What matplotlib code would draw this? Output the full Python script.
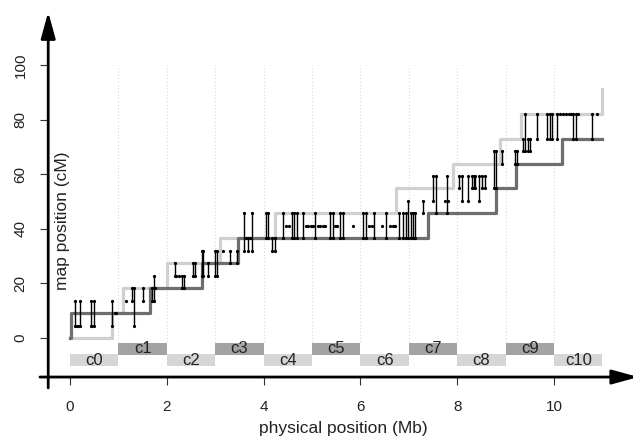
import numpy as np
import matplotlib.pyplot as plt

plt.rcParams['font.family'] = ['Liberation Sans', 'DejaVu Sans']

# step curves (physical Mb -> map cM)
light_x = [0, 0.87, 1.1, 2.0, 3.1, 4.24, 6.73, 7.91, 8.88, 9.32, 11.0]
light_y = [0, 9.1, 18.3, 27.4, 36.6, 45.7, 54.8, 63.9, 73.0, 82.2, 91.3]
dark_x = [0, 0.02, 1.65, 2.73, 3.47, 7.39, 8.8, 9.21, 10.17, 11.0]
dark_y = [0, 9.1, 18.3, 27.4, 36.6, 45.7, 54.8, 63.9, 73.0, 73.0]

# marker intervals
bar_x = [0.10, 0.21, 0.43, 0.50, 0.86,
         1.29, 1.33, 1.50, 1.70, 1.74,
         2.17, 2.31, 2.36, 2.55, 2.58, 2.72, 2.75, 2.86, 3.00, 3.04, 3.31, 3.46,
         3.60, 3.68, 3.77,
         4.05, 4.09, 4.17, 4.24, 4.41, 4.58, 4.63, 4.68, 4.81, 5.06,
         5.37, 5.43, 5.58, 5.65, 6.05, 6.12, 6.28, 6.53,
         6.80, 6.87, 6.95, 6.99, 7.04, 7.08, 7.13,
         7.29, 7.51, 7.56, 7.78, 8.04, 8.09, 8.23, 8.30, 8.34, 8.37,
         8.46, 8.51, 8.57, 8.75, 8.80, 8.92, 9.19, 9.23,
         9.35, 9.40, 9.46, 9.50, 9.64, 9.85, 9.92, 9.96, 10.06,
         10.40, 10.45, 10.78]
bar_lo = [4.5, 4.5, 4.5, 4.5, 4.5,
          13.7, 4.5, 13.7, 13.7, 13.7,
          22.8, 18.3, 18.3, 22.8, 22.8, 22.8, 22.8, 22.8, 22.8, 22.8, 27.4, 27.4,
          32.0, 32.0, 32.0,
          36.6, 36.6, 32.0, 32.0, 36.6, 36.6, 36.6, 36.6, 36.6, 36.6,
          36.6, 36.6, 36.6, 36.6, 36.6, 36.6, 36.6, 36.6,
          36.6, 36.6, 36.6, 36.6, 36.6, 36.6, 36.6,
          45.7, 50.2, 45.7, 45.7, 54.8, 50.2, 50.2, 54.8, 54.8, 54.8,
          50.2, 54.8, 54.8, 54.8, 54.8, 63.9, 63.9, 63.9,
          68.5, 68.5, 68.5, 68.5, 73.0, 73.0, 73.0, 73.0, 73.0,
          73.0, 73.0, 73.0]
bar_hi = [13.7, 13.7, 13.7, 13.7, 13.7,
          18.3, 18.3, 18.3, 18.3, 22.8,
          27.4, 22.8, 22.8, 27.4, 27.4, 32.0, 32.0, 27.4, 32.0, 32.0, 32.0, 32.0,
          45.7, 36.6, 45.7,
          45.7, 45.7, 36.6, 36.6, 45.7, 45.7, 45.7, 45.7, 45.7, 45.7,
          45.7, 45.7, 45.7, 45.7, 45.7, 45.7, 45.7, 45.7,
          45.7, 45.7, 45.7, 50.2, 45.7, 45.7, 45.7,
          50.2, 59.4, 59.4, 59.4, 59.4, 59.4, 59.4, 59.4, 59.4, 59.4,
          59.4, 59.4, 59.4, 68.5, 68.5, 68.5, 68.5, 68.5,
          73.0, 82.2, 73.0, 73.0, 82.2, 82.2, 82.2, 82.2, 82.2,
          82.2, 82.2, 82.2]

# single marker points
dot_x = [0.14, 0.17, 0.46, 0.92, 0.96, 1.16, 1.76, 2.20, 2.25, 3.17, 3.64, 3.72,
         4.47, 4.52, 4.88, 4.92, 4.97, 5.02, 5.12, 5.17, 5.22, 5.27, 5.47, 5.52,
         5.85, 6.18, 6.23, 6.45, 6.62, 6.67, 6.72, 7.75, 7.82,
         10.13, 10.18, 10.25, 10.30, 10.35, 10.50, 10.88]
dot_y = [4.5, 4.5, 4.5, 9.1, 9.1, 13.7, 18.3, 22.8, 22.8, 32.0, 36.6, 36.6,
         41.1, 41.1, 41.1, 41.1, 41.1, 41.1, 41.1, 41.1, 41.1, 41.1, 41.1, 41.1,
         41.1, 41.1, 41.1, 41.1, 41.1, 41.1, 41.1, 50.2, 50.2,
         82.2, 82.2, 82.2, 82.2, 82.2, 82.2, 82.2]

# chromosome contigs
contig_names = ['c0', 'c1', 'c2', 'c3', 'c4', 'c5', 'c6', 'c7', 'c8', 'c9', 'c10']
contig_start = [0, 1, 2, 3, 4, 5, 6, 7, 8, 9, 10]
contig_end = [1, 2, 3, 4, 5, 6, 7, 8, 9, 10, 11]

xticks = [0, 2, 4, 6, 8, 10]
yticks = [0, 20, 40, 60, 80, 100]

fig = plt.figure(figsize=(6.33, 4.38), dpi=100)
ax = fig.add_axes([0, 0, 1, 1])
ax.set_xlim(-1.446, 11.632)
ax.set_ylim(-36.63, 123.8)

# dotted guides
for gx in range(1, 11):
    ax.plot([gx, gx], [-1.5, 100], color='#d9d9d9', lw=0.8, ls=(0, (1, 2)), zorder=1)

# contig blocks
for i, name in enumerate(contig_names):
    s, e = contig_start[i], contig_end[i]
    if i % 2 == 0:
        bot, col = -10.4, '#d6d6d6'
    else:
        bot, col = -6.2, '#a3a3a3'
    ax.bar((s + e) / 2, 4.5, width=e - s, bottom=bot, color=col, lw=0, zorder=2)
    ax.text((s + e) / 2, bot + 2.25, name, ha='center', va='center',
            fontsize=12, color='#222222', zorder=3)

ax.step(light_x, light_y, where='post', color='#d0d0d0', lw=2.3, zorder=3)
ax.step(dark_x, dark_y, where='post', color='#6e6e6e', lw=2.3, zorder=4)

ax.vlines(bar_x, bar_lo, bar_hi, color='black', lw=1.0, zorder=5)
ax.plot(bar_x, bar_lo, '.', color='black', ms=2.6, zorder=6)
ax.plot(bar_x, bar_hi, '.', color='black', ms=2.6, zorder=6)
ax.plot(dot_x, dot_y, '.', color='black', ms=2.6, zorder=6)

# axes with arrows
for s in ax.spines.values():
    s.set_visible(False)
ax.spines['left'].set_position(('data', -0.45))
ax.spines['bottom'].set_position(('data', -14.3))
ax.annotate('', xy=(-0.45, 119.4), xytext=(-0.45, -18.3), annotation_clip=False,
            arrowprops=dict(arrowstyle='-|>,head_length=1.6,head_width=0.44',
                            lw=2.0, color='black', shrinkA=0, shrinkB=0,
                            mutation_scale=10))
ax.annotate('', xy=(11.74, -14.3), xytext=(-0.62, -14.3), annotation_clip=False,
            arrowprops=dict(arrowstyle='-|>,head_length=1.6,head_width=0.44',
                            lw=2.0, color='black', shrinkA=0, shrinkB=0,
                            mutation_scale=10))

ax.set_xticks(xticks)
ax.set_yticks(yticks)
ax.set_xticklabels([str(t) for t in xticks])
ax.set_yticklabels([str(t) for t in yticks], rotation=90, va='center')
ax.tick_params(axis='both', direction='out', length=5.8, width=0.8,
               labelsize=11, color='#333333', labelcolor='#222222')
ax.tick_params(axis='x', pad=11)
ax.tick_params(axis='y', pad=9)

ax.text(5.65, -33.0, 'physical position (Mb)', ha='center', va='center',
        fontsize=12.5, color='#222222')
ax.text(-0.165, 42.9, 'map position (cM)', ha='center', va='center',
        rotation=90, fontsize=12.5, color='#222222')

fig.savefig('out.png', dpi=100)
